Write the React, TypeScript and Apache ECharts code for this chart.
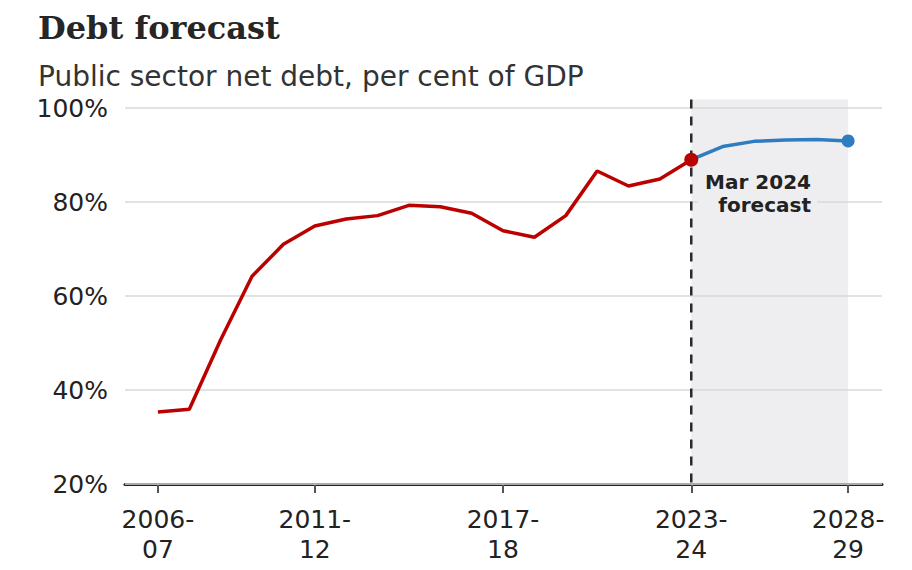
import React, { useEffect, useRef } from "react";
import * as echarts from "echarts";

const years = [
  "2006-07", "2007-08", "2008-09", "2009-10", "2010-11", "2011-12",
  "2012-13", "2013-14", "2014-15", "2015-16", "2016-17", "2017-18",
  "2018-19", "2019-20", "2020-21", "2021-22", "2022-23", "2023-24",
  "2024-25", "2025-26", "2026-27", "2027-28", "2028-29",
];
// outturn 2006-07 .. 2023-24
const outturn = [
  35.3, 35.9, 50.7, 64.2, 71.0, 74.9, 76.4, 77.1, 79.3, 79.0, 77.6, 73.9,
  72.5, 77.1, 86.6, 83.4, 84.9, 89.0,
];
// forecast 2023-24 .. 2028-29
const forecast = [89.0, 91.8, 92.9, 93.2, 93.3, 93.0];
const tickYears = ["2006-07", "2011-12", "2017-18", "2023-24", "2028-29"];
const yTicks = [20, 40, 60, 80, 100];
const forecastStart = "2023-24";
const forecastEnd = "2028-29";

const FONT = '"DejaVu Sans", "Open Sans", sans-serif';

export default function App() {
  const ref = useRef<HTMLDivElement>(null);

  useEffect(() => {
    if (!ref.current) return;
    const chart = echarts.init(ref.current, undefined, { renderer: "svg" });
    const startIdx = years.indexOf(forecastStart);
    const endIdx = years.indexOf(forecastEnd);
    const tickIdx = tickYears.map((y) => years.indexOf(y));
    const redData = outturn.map((v, i) => [i, v]);
    const blueData = forecast.map((v, i) => [startIdx + i, v]);
    const yMin = yTicks[0];
    const yMax = yTicks[yTicks.length - 1];

    chart.setOption({
      animation: false,
      title: [
        {
          text: "Debt forecast",
          left: 33,
          top: 7,
          textStyle: {
            fontFamily: '"DejaVu Serif", serif',
            fontWeight: "bold",
            fontSize: 32,
            color: "#262626",
          },
        },
        {
          text: "Public sector net debt, per cent of GDP",
          left: 33,
          top: 57,
          textStyle: {
            fontFamily: FONT,
            fontWeight: "normal",
            fontSize: 28,
            color: "#333333",
          },
        },
      ],
      grid: { left: 125, right: 30, top: 108, bottom: 86, containLabel: false },
      xAxis: {
        type: "value",
        min: -1.05,
        max: years.length - 1 + 1.08,
        axisLine: { show: true, onZero: false, lineStyle: { color: "#222222", width: 3 } },
        axisTick: {
          show: true,
          customValues: tickIdx,
          length: 9,
          lineStyle: { color: "#555555", width: 2 },
        },
        axisLabel: {
          customValues: tickIdx,
          formatter: (v: number) => {
            const s = years[Math.round(v)] || "";
            const [a, b] = s.split("-");
            return a + "-\n" + b;
          },
          fontFamily: FONT,
          fontSize: 25,
          lineHeight: 30,
          color: "#222222",
          margin: 20,
        },
        splitLine: { show: false },
      },
      yAxis: {
        type: "value",
        min: yMin,
        max: yMax,
        interval: 20,
        z: 1.5,
        axisLine: { show: false },
        axisTick: { show: false },
        axisLabel: {
          formatter: "{value}%",
          fontFamily: FONT,
          fontSize: 25,
          color: "#222222",
          margin: 17,
        },
        splitLine: { lineStyle: { color: "#d9d9d9", width: 1.5 } },
      },
      series: [
        {
          type: "line",
          data: blueData,
          clip: false,
          z: 3,
          lineStyle: { color: "#2f7cc0", width: 3.5 },
          itemStyle: { color: "#2f7cc0" },
          symbol: (_v: any, p: any) => (p.dataIndex === blueData.length - 1 ? "circle" : "none"),
          symbolSize: 13,
          showSymbol: true,
        },
        {
          type: "line",
          data: redData,
          clip: false,
          z: 4,
          lineStyle: { color: "#bb0000", width: 3.5 },
          itemStyle: { color: "#bb0000" },
          symbol: (_v: any, p: any) => (p.dataIndex === redData.length - 1 ? "circle" : "none"),
          symbolSize: 14,
          showSymbol: true,
        },
      ],
    });

    const finder = { xAxisIndex: 0, yAxisIndex: 0 };
    const tl = chart.convertToPixel(finder, [startIdx, yMax + 1.8]) as number[];
    const br = chart.convertToPixel(finder, [endIdx, yMin]) as number[];

    chart.setOption({
      graphic: [
        {
          type: "rect",
          z: 0,
          silent: true,
          shape: { x: tl[0], y: tl[1], width: br[0] - tl[0], height: br[1] - tl[1] },
          style: { fill: "#eeeef0" },
        },
        {
          type: "line",
          z: 2.5,
          silent: true,
          shape: { x1: tl[0], y1: tl[1], x2: tl[0], y2: br[1] },
          style: { stroke: "#2a2a2a", lineWidth: 2.5, lineDash: [9, 8] },
        },
        {
          type: "text",
          x: 817,
          y: 169,
          z: 10,
          style: {
            text: "Mar 2024\nforecast",
            font: 'bold 20px "DejaVu Sans", sans-serif',
            fill: "#222222",
            align: "right",
            verticalAlign: "top",
            lineHeight: 23,
            backgroundColor: "#eeeef0",
            padding: [1, 6, 1, 7],
          },
        },
      ],
    });

    return () => chart.dispose();
  }, []);

  return (
    <div
      ref={ref}
      style={{ position: "fixed", left: 0, top: 0, width: 912, height: 570, background: "#ffffff" }}
    />
  );
}
